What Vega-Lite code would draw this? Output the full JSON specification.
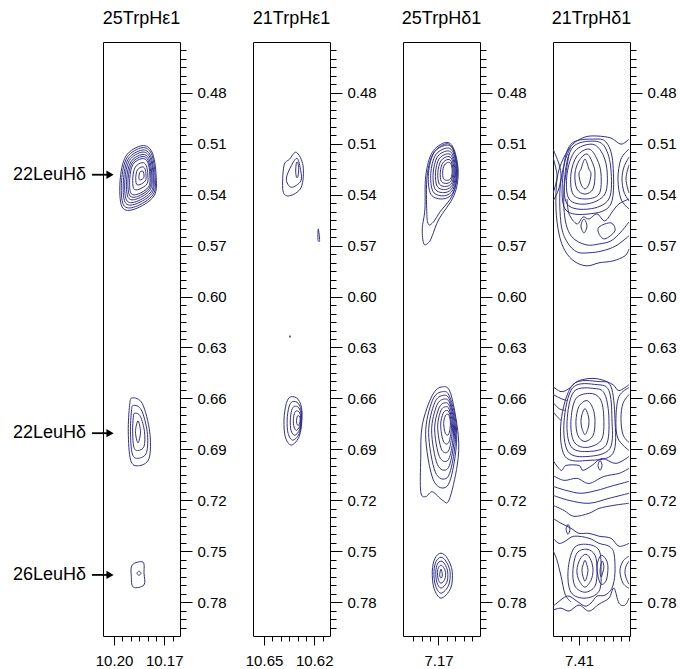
{
"$schema":"https://vega.github.io/schema/vega-lite/v6.json",
"autosize":{"type":"pad"},
"padding":{"left":12,"top":9,"right":5,"bottom":5},
"background":"white",
"spacing":73,
"bounds":"flush",
"config":{
 "view":{"stroke":"#000","strokeWidth":1},
 "font":"Liberation Sans",
 "axis":{"domain":false,"grid":false,"labelFontSize":15,"labelColor":"#000","tickColor":"#000","tickWidth":1,"labelOverlap":false,"labelFlush":false,"labelBound":false},
 "title":{"fontSize":18,"fontWeight":"normal","color":"#000","offset":14,"baseline":"alphabetic","frame":"group","anchor":"middle"}
},
"datasets":{
"p1":[
{"c":"A1","x":10.1833,"y":0.5111},{"c":"A1","x":10.1773,"y":0.5149},{"c":"A1","x":10.1749,"y":0.5284},{"c":"A1","x":10.1761,"y":0.5407},{"c":"A1","x":10.1875,"y":0.5484},{"c":"A1","x":10.1952,"y":0.5472},{"c":"A1","x":10.1964,"y":0.5319},{"c":"A1","x":10.1929,"y":0.5172},
{"c":"A1b","x":10.1833,"y":0.5123},{"c":"A1b","x":10.1777,"y":0.5158},{"c":"A1b","x":10.1755,"y":0.5284},{"c":"A1b","x":10.1766,"y":0.5398},{"c":"A1b","x":10.1872,"y":0.5470},{"c":"A1b","x":10.1944,"y":0.5459},{"c":"A1b","x":10.1955,"y":0.5317},{"c":"A1b","x":10.1922,"y":0.5180},
{"c":"A2","x":10.1833,"y":0.5137},{"c":"A2","x":10.1782,"y":0.5169},{"c":"A2","x":10.1762,"y":0.5284},{"c":"A2","x":10.1772,"y":0.5389},{"c":"A2","x":10.1869,"y":0.5454},{"c":"A2","x":10.1934,"y":0.5444},{"c":"A2","x":10.1944,"y":0.5314},{"c":"A2","x":10.1915,"y":0.5189},
{"c":"A2b","x":10.1833,"y":0.5149},{"c":"A2b","x":10.1786,"y":0.5179},{"c":"A2b","x":10.1767,"y":0.5284},{"c":"A2b","x":10.1777,"y":0.5380},{"c":"A2b","x":10.1866,"y":0.5440},{"c":"A2b","x":10.1926,"y":0.5431},{"c":"A2b","x":10.1935,"y":0.5311},{"c":"A2b","x":10.1908,"y":0.5197},
{"c":"A3","x":10.1833,"y":0.5163},{"c":"A3","x":10.1791,"y":0.5189},{"c":"A3","x":10.1774,"y":0.5284},{"c":"A3","x":10.1783,"y":0.5370},{"c":"A3","x":10.1862,"y":0.5424},{"c":"A3","x":10.1916,"y":0.5416},{"c":"A3","x":10.1925,"y":0.5309},{"c":"A3","x":10.1900,"y":0.5206},
{"c":"A3b","x":10.1833,"y":0.5175},{"c":"A3b","x":10.1795,"y":0.5199},{"c":"A3b","x":10.1780,"y":0.5284},{"c":"A3b","x":10.1788,"y":0.5361},{"c":"A3b","x":10.1859,"y":0.5410},{"c":"A3b","x":10.1908,"y":0.5402},{"c":"A3b","x":10.1916,"y":0.5306},{"c":"A3b","x":10.1893,"y":0.5213},
{"c":"A4","x":10.1833,"y":0.5187},{"c":"A4","x":10.1799,"y":0.5208},{"c":"A4","x":10.1786,"y":0.5284},{"c":"A4","x":10.1793,"y":0.5353},{"c":"A4","x":10.1857,"y":0.5396},{"c":"A4","x":10.1900,"y":0.5389},{"c":"A4","x":10.1906,"y":0.5304},{"c":"A4","x":10.1887,"y":0.5221},
{"c":"A5","x":10.1833,"y":0.5211},{"c":"A5","x":10.1808,"y":0.5227},{"c":"A5","x":10.1798,"y":0.5284},{"c":"A5","x":10.1803,"y":0.5336},{"c":"A5","x":10.1851,"y":0.5368},{"c":"A5","x":10.1883,"y":0.5363},{"c":"A5","x":10.1888,"y":0.5299},{"c":"A5","x":10.1873,"y":0.5237},
{"c":"A6","x":10.1833,"y":0.5236},{"c":"A6","x":10.1816,"y":0.5246},{"c":"A6","x":10.1809,"y":0.5284},{"c":"A6","x":10.1813,"y":0.5318},{"c":"A6","x":10.1845,"y":0.5340},{"c":"A6","x":10.1866,"y":0.5337},{"c":"A6","x":10.1870,"y":0.5294},{"c":"A6","x":10.1860,"y":0.5253},
{"c":"A7","x":10.1833,"y":0.5260},{"c":"A7","x":10.1825,"y":0.5265},{"c":"A7","x":10.1821,"y":0.5284},{"c":"A7","x":10.1823,"y":0.5301},{"c":"A7","x":10.1839,"y":0.5312},{"c":"A7","x":10.1850,"y":0.5310},{"c":"A7","x":10.1851,"y":0.5289},{"c":"A7","x":10.1846,"y":0.5268},
{"c":"B1","x":10.1891,"y":0.6597},{"c":"B1","x":10.1831,"y":0.6631},{"c":"B1","x":10.1787,"y":0.6797},{"c":"B1","x":10.1791,"y":0.6954},{"c":"B1","x":10.1855,"y":0.6997},{"c":"B1","x":10.1901,"y":0.6964},{"c":"B1","x":10.1915,"y":0.6797},{"c":"B1","x":10.1907,"y":0.6641},
{"c":"B2","x":10.1884,"y":0.6641},{"c":"B2","x":10.1837,"y":0.6668},{"c":"B2","x":10.1802,"y":0.6797},{"c":"B2","x":10.1806,"y":0.6919},{"c":"B2","x":10.1855,"y":0.6953},{"c":"B2","x":10.1891,"y":0.6927},{"c":"B2","x":10.1902,"y":0.6797},{"c":"B2","x":10.1896,"y":0.6675},
{"c":"B3","x":10.1876,"y":0.6687},{"c":"B3","x":10.1843,"y":0.6706},{"c":"B3","x":10.1818,"y":0.6797},{"c":"B3","x":10.1821,"y":0.6883},{"c":"B3","x":10.1856,"y":0.6907},{"c":"B3","x":10.1881,"y":0.6889},{"c":"B3","x":10.1889,"y":0.6797},{"c":"B3","x":10.1885,"y":0.6711},
{"c":"B4","x":10.1857,"y":0.6732},{"c":"B4","x":10.1842,"y":0.6797},{"c":"B4","x":10.1857,"y":0.6862},{"c":"B4","x":10.1872,"y":0.6797},
{"c":"C1","x":10.1891,"y":0.7581},{"c":"C1","x":10.1827,"y":0.7565},{"c":"C1","x":10.1821,"y":0.7630},{"c":"C1","x":10.1821,"y":0.7699},{"c":"C1","x":10.1885,"y":0.7712},{"c":"C1","x":10.1897,"y":0.7648},
{"c":"C2","x":10.1851,"y":0.7618},{"c":"C2","x":10.1839,"y":0.7630},{"c":"C2","x":10.1851,"y":0.7642},{"c":"C2","x":10.1863,"y":0.7630}
],
"p2":[
{"c":"D1","x":10.6307,"y":0.5150},{"c":"D1","x":10.6267,"y":0.5229},{"c":"D1","x":10.6278,"y":0.5356},{"c":"D1","x":10.6347,"y":0.5406},{"c":"D1","x":10.6387,"y":0.5376},{"c":"D1","x":10.6381,"y":0.5229},{"c":"D1","x":10.6347,"y":0.5190},
{"c":"D2","x":10.6302,"y":0.5186},{"c":"D2","x":10.6281,"y":0.5259},{"c":"D2","x":10.6281,"y":0.5320},{"c":"D2","x":10.6337,"y":0.5356},{"c":"D2","x":10.6367,"y":0.5307},{"c":"D2","x":10.6337,"y":0.5229},
{"c":"D3","x":10.6300,"y":0.5209},{"c":"D3","x":10.6293,"y":0.5240},{"c":"D3","x":10.6297,"y":0.5290},{"c":"D3","x":10.6306,"y":0.5297},{"c":"D3","x":10.6311,"y":0.5260},{"c":"D3","x":10.6307,"y":0.5215},
{"c":"D4","x":10.6176,"y":0.5601},{"c":"D4","x":10.6168,"y":0.5670},{"c":"D4","x":10.6178,"y":0.5665},
{"c":"D5","x":10.6345,"y":0.6230},{"c":"D5","x":10.6343,"y":0.6240},{"c":"D5","x":10.6347,"y":0.6240},
{"c":"E1","x":10.6341,"y":0.6591},{"c":"E1","x":10.6297,"y":0.6605},{"c":"E1","x":10.6273,"y":0.6679},{"c":"E1","x":10.6287,"y":0.6816},{"c":"E1","x":10.6337,"y":0.6875},{"c":"E1","x":10.6373,"y":0.6826},{"c":"E1","x":10.6381,"y":0.6728},{"c":"E1","x":10.6367,"y":0.6630},
{"c":"E2","x":10.6330,"y":0.6619},{"c":"E2","x":10.6295,"y":0.6630},{"c":"E2","x":10.6276,"y":0.6689},{"c":"E2","x":10.6287,"y":0.6799},{"c":"E2","x":10.6327,"y":0.6846},{"c":"E2","x":10.6356,"y":0.6807},{"c":"E2","x":10.6362,"y":0.6728},{"c":"E2","x":10.6351,"y":0.6650},
{"c":"E3","x":10.6319,"y":0.6647},{"c":"E3","x":10.6293,"y":0.6655},{"c":"E3","x":10.6279,"y":0.6699},{"c":"E3","x":10.6287,"y":0.6782},{"c":"E3","x":10.6317,"y":0.6817},{"c":"E3","x":10.6339,"y":0.6788},{"c":"E3","x":10.6343,"y":0.6729},{"c":"E3","x":10.6335,"y":0.6670},
{"c":"E4","x":10.6309,"y":0.6674},{"c":"E4","x":10.6291,"y":0.6680},{"c":"E4","x":10.6281,"y":0.6710},{"c":"E4","x":10.6287,"y":0.6764},{"c":"E4","x":10.6307,"y":0.6788},{"c":"E4","x":10.6321,"y":0.6768},{"c":"E4","x":10.6325,"y":0.6729},{"c":"E4","x":10.6319,"y":0.6690},
{"c":"E5","x":10.6298,"y":0.6702},{"c":"E5","x":10.6289,"y":0.6705},{"c":"E5","x":10.6284,"y":0.6720},{"c":"E5","x":10.6287,"y":0.6747},{"c":"E5","x":10.6297,"y":0.6759},{"c":"E5","x":10.6304,"y":0.6749},{"c":"E5","x":10.6306,"y":0.6730},{"c":"E5","x":10.6303,"y":0.6710}
],
"p3":[
{"c":"F0","x":7.1657,"y":0.5092},{"c":"F0","x":7.1608,"y":0.5131},{"c":"F0","x":7.1582,"y":0.5268},{"c":"F0","x":7.1608,"y":0.5406},{"c":"F0","x":7.1697,"y":0.5543},{"c":"F0","x":7.1737,"y":0.5641},{"c":"F0","x":7.1757,"y":0.5680},{"c":"F0","x":7.1787,"y":0.5690},{"c":"F0","x":7.1797,"y":0.5601},{"c":"F0","x":7.1781,"y":0.5484},{"c":"F0","x":7.1776,"y":0.5288},{"c":"F0","x":7.1737,"y":0.5150},
{"c":"F1","x":7.1655,"y":0.5100},{"c":"F1","x":7.1612,"y":0.5135},{"c":"F1","x":7.1588,"y":0.5268},{"c":"F1","x":7.1615,"y":0.5400},{"c":"F1","x":7.1690,"y":0.5500},{"c":"F1","x":7.1730,"y":0.5560},{"c":"F1","x":7.1760,"y":0.5575},{"c":"F1","x":7.1770,"y":0.5500},{"c":"F1","x":7.1768,"y":0.5290},{"c":"F1","x":7.1730,"y":0.5155},
{"c":"F2","x":7.1655,"y":0.5108},{"c":"F2","x":7.1610,"y":0.5138},{"c":"F2","x":7.1587,"y":0.5260},{"c":"F2","x":7.1610,"y":0.5382},{"c":"F2","x":7.1669,"y":0.5424},{"c":"F2","x":7.1745,"y":0.5398},{"c":"F2","x":7.1760,"y":0.5276},{"c":"F2","x":7.1728,"y":0.5154},
{"c":"F3","x":7.1652,"y":0.5125},{"c":"F3","x":7.1612,"y":0.5152},{"c":"F3","x":7.1592,"y":0.5260},{"c":"F3","x":7.1612,"y":0.5368},{"c":"F3","x":7.1665,"y":0.5406},{"c":"F3","x":7.1732,"y":0.5382},{"c":"F3","x":7.1746,"y":0.5274},{"c":"F3","x":7.1718,"y":0.5166},
{"c":"F4","x":7.1650,"y":0.5142},{"c":"F4","x":7.1615,"y":0.5165},{"c":"F4","x":7.1597,"y":0.5260},{"c":"F4","x":7.1615,"y":0.5355},{"c":"F4","x":7.1661,"y":0.5387},{"c":"F4","x":7.1720,"y":0.5367},{"c":"F4","x":7.1732,"y":0.5273},{"c":"F4","x":7.1707,"y":0.5177},
{"c":"F5","x":7.1647,"y":0.5159},{"c":"F5","x":7.1617,"y":0.5179},{"c":"F5","x":7.1602,"y":0.5260},{"c":"F5","x":7.1617,"y":0.5341},{"c":"F5","x":7.1657,"y":0.5369},{"c":"F5","x":7.1707,"y":0.5352},{"c":"F5","x":7.1718,"y":0.5271},{"c":"F5","x":7.1697,"y":0.5189},
{"c":"F6","x":7.1645,"y":0.5175},{"c":"F6","x":7.1620,"y":0.5192},{"c":"F6","x":7.1607,"y":0.5260},{"c":"F6","x":7.1620,"y":0.5328},{"c":"F6","x":7.1653,"y":0.5351},{"c":"F6","x":7.1695,"y":0.5337},{"c":"F6","x":7.1704,"y":0.5269},{"c":"F6","x":7.1686,"y":0.5201},
{"c":"F7","x":7.1643,"y":0.5192},{"c":"F7","x":7.1623,"y":0.5206},{"c":"F7","x":7.1613,"y":0.5260},{"c":"F7","x":7.1623,"y":0.5314},{"c":"F7","x":7.1649,"y":0.5333},{"c":"F7","x":7.1683,"y":0.5321},{"c":"F7","x":7.1689,"y":0.5267},{"c":"F7","x":7.1675,"y":0.5213},
{"c":"F8","x":7.1640,"y":0.5209},{"c":"F8","x":7.1625,"y":0.5219},{"c":"F8","x":7.1618,"y":0.5260},{"c":"F8","x":7.1625,"y":0.5301},{"c":"F8","x":7.1645,"y":0.5315},{"c":"F8","x":7.1670,"y":0.5306},{"c":"F8","x":7.1675,"y":0.5265},{"c":"F8","x":7.1665,"y":0.5225},
{"c":"G0","x":7.1677,"y":0.6532},{"c":"G0","x":7.1627,"y":0.6572},{"c":"G0","x":7.1582,"y":0.6817},{"c":"G0","x":7.1588,"y":0.6993},{"c":"G0","x":7.1637,"y":0.7199},{"c":"G0","x":7.1677,"y":0.7199},{"c":"G0","x":7.1737,"y":0.7150},{"c":"G0","x":7.1776,"y":0.7179},{"c":"G0","x":7.1806,"y":0.7150},{"c":"G0","x":7.1806,"y":0.6954},{"c":"G0","x":7.1797,"y":0.6758},{"c":"G0","x":7.1737,"y":0.6582},
{"c":"G1","x":7.1676,"y":0.6560},{"c":"G1","x":7.1632,"y":0.6592},{"c":"G1","x":7.1593,"y":0.6767},{"c":"G1","x":7.1602,"y":0.6951},{"c":"G1","x":7.1648,"y":0.7117},{"c":"G1","x":7.1731,"y":0.7080},{"c":"G1","x":7.1777,"y":0.6813},{"c":"G1","x":7.1736,"y":0.6611},
{"c":"G2","x":7.1671,"y":0.6582},{"c":"G2","x":7.1633,"y":0.6610},{"c":"G2","x":7.1599,"y":0.6762},{"c":"G2","x":7.1607,"y":0.6922},{"c":"G2","x":7.1647,"y":0.7066},{"c":"G2","x":7.1719,"y":0.7034},{"c":"G2","x":7.1759,"y":0.6802},{"c":"G2","x":7.1723,"y":0.6626},
{"c":"G3","x":7.1666,"y":0.6604},{"c":"G3","x":7.1633,"y":0.6628},{"c":"G3","x":7.1605,"y":0.6757},{"c":"G3","x":7.1612,"y":0.6893},{"c":"G3","x":7.1646,"y":0.7015},{"c":"G3","x":7.1707,"y":0.6988},{"c":"G3","x":7.1741,"y":0.6791},{"c":"G3","x":7.1710,"y":0.6641},
{"c":"G4","x":7.1661,"y":0.6626},{"c":"G4","x":7.1634,"y":0.6646},{"c":"G4","x":7.1611,"y":0.6752},{"c":"G4","x":7.1616,"y":0.6864},{"c":"G4","x":7.1644,"y":0.6965},{"c":"G4","x":7.1695,"y":0.6942},{"c":"G4","x":7.1723,"y":0.6780},{"c":"G4","x":7.1697,"y":0.6657},
{"c":"G5","x":7.1657,"y":0.6649},{"c":"G5","x":7.1636,"y":0.6664},{"c":"G5","x":7.1617,"y":0.6748},{"c":"G5","x":7.1622,"y":0.6836},{"c":"G5","x":7.1644,"y":0.6915},{"c":"G5","x":7.1683,"y":0.6898},{"c":"G5","x":7.1705,"y":0.6770},{"c":"G5","x":7.1686,"y":0.6673},
{"c":"G6","x":7.1652,"y":0.6671},{"c":"G6","x":7.1637,"y":0.6682},{"c":"G6","x":7.1623,"y":0.6743},{"c":"G6","x":7.1626,"y":0.6807},{"c":"G6","x":7.1642,"y":0.6865},{"c":"G6","x":7.1671,"y":0.6852},{"c":"G6","x":7.1687,"y":0.6759},{"c":"G6","x":7.1673,"y":0.6689},
{"c":"G7","x":7.1647,"y":0.6693},{"c":"G7","x":7.1637,"y":0.6700},{"c":"G7","x":7.1629,"y":0.6738},{"c":"G7","x":7.1631,"y":0.6778},{"c":"G7","x":7.1641,"y":0.6814},{"c":"G7","x":7.1659,"y":0.6806},{"c":"G7","x":7.1669,"y":0.6748},{"c":"G7","x":7.1660,"y":0.6704},
{"c":"H1","x":7.1685,"y":0.7512},{"c":"H1","x":7.1647,"y":0.7542},{"c":"H1","x":7.1618,"y":0.7618},{"c":"H1","x":7.1627,"y":0.7718},{"c":"H1","x":7.1685,"y":0.7777},{"c":"H1","x":7.1727,"y":0.7718},{"c":"H1","x":7.1737,"y":0.7618},{"c":"H1","x":7.1721,"y":0.7542},
{"c":"H2","x":7.1685,"y":0.7536},{"c":"H2","x":7.1655,"y":0.7560},{"c":"H2","x":7.1631,"y":0.7620},{"c":"H2","x":7.1639,"y":0.7700},{"c":"H2","x":7.1685,"y":0.7748},{"c":"H2","x":7.1719,"y":0.7700},{"c":"H2","x":7.1727,"y":0.7620},{"c":"H2","x":7.1714,"y":0.7560},
{"c":"H3","x":7.1685,"y":0.7559},{"c":"H3","x":7.1662,"y":0.7577},{"c":"H3","x":7.1645,"y":0.7623},{"c":"H3","x":7.1650,"y":0.7683},{"c":"H3","x":7.1685,"y":0.7718},{"c":"H3","x":7.1710,"y":0.7683},{"c":"H3","x":7.1716,"y":0.7623},{"c":"H3","x":7.1707,"y":0.7577},
{"c":"H4","x":7.1685,"y":0.7583},{"c":"H4","x":7.1670,"y":0.7595},{"c":"H4","x":7.1658,"y":0.7625},{"c":"H4","x":7.1662,"y":0.7665},{"c":"H4","x":7.1685,"y":0.7689},{"c":"H4","x":7.1702,"y":0.7665},{"c":"H4","x":7.1706,"y":0.7625},{"c":"H4","x":7.1699,"y":0.7595},
{"c":"H5","x":7.1685,"y":0.7606},{"c":"H5","x":7.1677,"y":0.7640},{"c":"H5","x":7.1685,"y":0.7660},{"c":"H5","x":7.1693,"y":0.7640}
],
"p4":[
{"c":"M1","x":7.4065,"y":0.5190},{"c":"M1","x":7.4041,"y":0.5249},{"c":"M1","x":7.4029,"y":0.5278},{"c":"M1","x":7.4041,"y":0.5337},{"c":"M1","x":7.4065,"y":0.5366},{"c":"M1","x":7.4089,"y":0.5337},{"c":"M1","x":7.4101,"y":0.5278},{"c":"M1","x":7.4089,"y":0.5249},
{"c":"M2","x":7.4053,"y":0.5160},{"c":"M2","x":7.4017,"y":0.5219},{"c":"M2","x":7.4005,"y":0.5278},{"c":"M2","x":7.4017,"y":0.5366},{"c":"M2","x":7.4065,"y":0.5396},{"c":"M2","x":7.4113,"y":0.5366},{"c":"M2","x":7.4125,"y":0.5278},{"c":"M2","x":7.4101,"y":0.5201},
{"c":"M3","x":7.4041,"y":0.5131},{"c":"M3","x":7.3993,"y":0.5190},{"c":"M3","x":7.3969,"y":0.5278},{"c":"M3","x":7.3981,"y":0.5396},{"c":"M3","x":7.4065,"y":0.5425},{"c":"M3","x":7.4137,"y":0.5396},{"c":"M3","x":7.4149,"y":0.5278},{"c":"M3","x":7.4113,"y":0.5172},
{"c":"M4","x":7.4029,"y":0.5102},{"c":"M4","x":7.3969,"y":0.5143},{"c":"M4","x":7.3934,"y":0.5249},{"c":"M4","x":7.3946,"y":0.5396},{"c":"M4","x":7.4053,"y":0.5454},{"c":"M4","x":7.4160,"y":0.5425},{"c":"M4","x":7.4172,"y":0.5278},{"c":"M4","x":7.4125,"y":0.5143},
{"c":"M5","x":7.4017,"y":0.5084},{"c":"M5","x":7.3946,"y":0.5119},{"c":"M5","x":7.3910,"y":0.5249},{"c":"M5","x":7.3922,"y":0.5425},{"c":"M5","x":7.4041,"y":0.5484},{"c":"M5","x":7.4172,"y":0.5454},{"c":"M5","x":7.4184,"y":0.5278},{"c":"M5","x":7.4137,"y":0.5119},
{"c":"M6","x":7.4005,"y":0.5072},{"c":"M6","x":7.3934,"y":0.5096},{"c":"M6","x":7.3898,"y":0.5219},{"c":"M6","x":7.3910,"y":0.5454},{"c":"M6","x":7.4041,"y":0.5513},{"c":"M6","x":7.4184,"y":0.5484},{"c":"M6","x":7.4196,"y":0.5278},{"c":"M6","x":7.4149,"y":0.5102},
{"c":"K1","x":7.4071,"y":0.5543},{"c":"K1","x":7.4053,"y":0.5584},{"c":"K1","x":7.4071,"y":0.5625},{"c":"K1","x":7.4089,"y":0.5584},
{"c":"K2","x":7.3981,"y":0.5590},{"c":"K2","x":7.3910,"y":0.5566},{"c":"K2","x":7.3886,"y":0.5613},{"c":"K2","x":7.3946,"y":0.5660},{"c":"K2","x":7.3981,"y":0.5631},
{"c":"P1","x":7.4065,"y":0.6660},{"c":"P1","x":7.4047,"y":0.6695},{"c":"P1","x":7.4041,"y":0.6736},{"c":"P1","x":7.4047,"y":0.6777},{"c":"P1","x":7.4065,"y":0.6813},{"c":"P1","x":7.4083,"y":0.6777},{"c":"P1","x":7.4089,"y":0.6736},{"c":"P1","x":7.4083,"y":0.6695},
{"c":"P2","x":7.4053,"y":0.6613},{"c":"P2","x":7.4017,"y":0.6660},{"c":"P2","x":7.4005,"y":0.6736},{"c":"P2","x":7.4017,"y":0.6819},{"c":"P2","x":7.4065,"y":0.6854},{"c":"P2","x":7.4107,"y":0.6819},{"c":"P2","x":7.4119,"y":0.6736},{"c":"P2","x":7.4101,"y":0.6648},
{"c":"P3","x":7.4029,"y":0.6571},{"c":"P3","x":7.3969,"y":0.6613},{"c":"P3","x":7.3952,"y":0.6736},{"c":"P3","x":7.3969,"y":0.6848},{"c":"P3","x":7.4059,"y":0.6889},{"c":"P3","x":7.4131,"y":0.6854},{"c":"P3","x":7.4149,"y":0.6736},{"c":"P3","x":7.4119,"y":0.6601},
{"c":"P4","x":7.4005,"y":0.6542},{"c":"P4","x":7.3946,"y":0.6577},{"c":"P4","x":7.3922,"y":0.6718},{"c":"P4","x":7.3940,"y":0.6877},{"c":"P4","x":7.4053,"y":0.6913},{"c":"P4","x":7.4149,"y":0.6883},{"c":"P4","x":7.4172,"y":0.6736},{"c":"P4","x":7.4131,"y":0.6560},
{"c":"P5","x":7.3993,"y":0.6519},{"c":"P5","x":7.3922,"y":0.6554},{"c":"P5","x":7.3904,"y":0.6718},{"c":"P5","x":7.3916,"y":0.6895},{"c":"P5","x":7.4047,"y":0.6942},{"c":"P5","x":7.4166,"y":0.6913},{"c":"P5","x":7.4190,"y":0.6736},{"c":"P5","x":7.4137,"y":0.6536},
{"c":"P6","x":7.3981,"y":0.6501},{"c":"P6","x":7.3910,"y":0.6530},{"c":"P6","x":7.3886,"y":0.6718},{"c":"P6","x":7.3898,"y":0.6924},{"c":"P6","x":7.4041,"y":0.6965},{"c":"P6","x":7.4184,"y":0.6942},{"c":"P6","x":7.4208,"y":0.6736},{"c":"P6","x":7.4137,"y":0.6519},
{"c":"K3","x":7.3975,"y":0.6965},{"c":"K3","x":7.3963,"y":0.6995},{"c":"K3","x":7.3975,"y":0.7024},{"c":"K3","x":7.3987,"y":0.6995},
{"c":"K4","x":7.4166,"y":0.7342},{"c":"K4","x":7.4155,"y":0.7371},{"c":"K4","x":7.4166,"y":0.7401},{"c":"K4","x":7.4178,"y":0.7371},
{"c":"Q1","x":7.4065,"y":0.7554},{"c":"Q1","x":7.4053,"y":0.7583},{"c":"Q1","x":7.4047,"y":0.7613},{"c":"Q1","x":7.4053,"y":0.7648},{"c":"Q1","x":7.4065,"y":0.7677},{"c":"Q1","x":7.4077,"y":0.7648},{"c":"Q1","x":7.4083,"y":0.7613},{"c":"Q1","x":7.4077,"y":0.7583},
{"c":"Q2","x":7.4059,"y":0.7518},{"c":"Q2","x":7.4029,"y":0.7554},{"c":"Q2","x":7.4017,"y":0.7613},{"c":"Q2","x":7.4029,"y":0.7671},{"c":"Q2","x":7.4065,"y":0.7712},{"c":"Q2","x":7.4101,"y":0.7671},{"c":"Q2","x":7.4113,"y":0.7613},{"c":"Q2","x":7.4095,"y":0.7548},
{"c":"Q3","x":7.4053,"y":0.7489},{"c":"Q3","x":7.4005,"y":0.7524},{"c":"Q3","x":7.3993,"y":0.7613},{"c":"Q3","x":7.4005,"y":0.7706},{"c":"Q3","x":7.4065,"y":0.7742},{"c":"Q3","x":7.4125,"y":0.7706},{"c":"Q3","x":7.4137,"y":0.7613},{"c":"Q3","x":7.4113,"y":0.7512},
{"c":"Q4","x":7.4053,"y":0.7460},{"c":"Q4","x":7.3981,"y":0.7495},{"c":"Q4","x":7.3969,"y":0.7613},{"c":"Q4","x":7.3981,"y":0.7736},{"c":"Q4","x":7.4065,"y":0.7777},{"c":"Q4","x":7.4149,"y":0.7742},{"c":"Q4","x":7.4166,"y":0.7613},{"c":"Q4","x":7.4131,"y":0.7483},
{"c":"T1","x":7.3963,"y":0.7559},{"c":"T1","x":7.3952,"y":0.7589},{"c":"T1","x":7.3958,"y":0.7624},{"c":"T1","x":7.3969,"y":0.7653},{"c":"T1","x":7.3975,"y":0.7613},
{"c":"T2","x":7.3963,"y":0.7524},{"c":"T2","x":7.3934,"y":0.7559},{"c":"T2","x":7.3928,"y":0.7613},{"c":"T2","x":7.3940,"y":0.7677},{"c":"T2","x":7.3969,"y":0.7695},{"c":"T2","x":7.3987,"y":0.7648},{"c":"T2","x":7.3993,"y":0.7589},{"c":"T2","x":7.3981,"y":0.7542}
],
"p4o":[
{"c":"U1","x":7.3802,"y":0.5072},{"c":"U1","x":7.3850,"y":0.5102},{"c":"U1","x":7.3910,"y":0.5066},{"c":"U1","x":7.3993,"y":0.5054},{"c":"U1","x":7.4065,"y":0.5060},{"c":"U1","x":7.4137,"y":0.5102},{"c":"U1","x":7.4196,"y":0.5190},{"c":"U1","x":7.4232,"y":0.5307},{"c":"U1","x":7.4238,"y":0.5484},{"c":"U1","x":7.4220,"y":0.5631},{"c":"U1","x":7.4184,"y":0.5731},{"c":"U1","x":7.4125,"y":0.5795},{"c":"U1","x":7.4053,"y":0.5819},{"c":"U1","x":7.3981,"y":0.5801},{"c":"U1","x":7.3898,"y":0.5790},{"c":"U1","x":7.3826,"y":0.5760},{"c":"U1","x":7.3802,"y":0.5719},
{"c":"U2","x":7.4149,"y":0.5119},{"c":"U2","x":7.4184,"y":0.5201},{"c":"U2","x":7.4214,"y":0.5366},{"c":"U2","x":7.4208,"y":0.5572},{"c":"U2","x":7.4172,"y":0.5678},{"c":"U2","x":7.4113,"y":0.5737},{"c":"U2","x":7.4041,"y":0.5742},{"c":"U2","x":7.3963,"y":0.5731},{"c":"U2","x":7.3880,"y":0.5701},{"c":"U2","x":7.3802,"y":0.5642},
{"c":"U3","x":7.4160,"y":0.5160},{"c":"U3","x":7.4190,"y":0.5366},{"c":"U3","x":7.4184,"y":0.5543},{"c":"U3","x":7.4143,"y":0.5648},{"c":"U3","x":7.4059,"y":0.5695},{"c":"U3","x":7.3981,"y":0.5690},{"c":"U3","x":7.3910,"y":0.5672},{"c":"U3","x":7.3850,"y":0.5619},{"c":"U3","x":7.3802,"y":0.5560},
{"c":"W1","x":7.4172,"y":0.5425},{"c":"W1","x":7.4160,"y":0.5513},{"c":"W1","x":7.4113,"y":0.5572},{"c":"W1","x":7.4077,"y":0.5531},{"c":"W1","x":7.4041,"y":0.5543},{"c":"W1","x":7.3993,"y":0.5513},{"c":"W1","x":7.3946,"y":0.5554},{"c":"W1","x":7.3898,"y":0.5495},{"c":"W1","x":7.3862,"y":0.5454},{"c":"W1","x":7.3802,"y":0.5425},
{"c":"R1","x":7.3802,"y":0.5131},{"c":"R1","x":7.3850,"y":0.5190},{"c":"R1","x":7.3868,"y":0.5307},{"c":"R1","x":7.3850,"y":0.5425},{"c":"R1","x":7.3802,"y":0.5484},
{"c":"R2","x":7.3802,"y":0.5178},{"c":"R2","x":7.3832,"y":0.5237},{"c":"R2","x":7.3844,"y":0.5307},{"c":"R2","x":7.3832,"y":0.5384},{"c":"R2","x":7.3802,"y":0.5437},
{"c":"R3","x":7.3802,"y":0.5225},{"c":"R3","x":7.3820,"y":0.5307},{"c":"R3","x":7.3802,"y":0.5390},
{"c":"L1","x":7.4256,"y":0.5131},{"c":"L1","x":7.4220,"y":0.5219},{"c":"L1","x":7.4208,"y":0.5296},{"c":"L1","x":7.4226,"y":0.5378},{"c":"L1","x":7.4256,"y":0.5437},
{"c":"L2","x":7.4256,"y":0.5178},{"c":"L2","x":7.4238,"y":0.5249},{"c":"L2","x":7.4232,"y":0.5296},{"c":"L2","x":7.4244,"y":0.5354},{"c":"L2","x":7.4256,"y":0.5390},
{"c":"N1","x":7.4256,"y":0.6530},{"c":"N1","x":7.4208,"y":0.6560},{"c":"N1","x":7.4160,"y":0.6542},{"c":"N1","x":7.4113,"y":0.6501},{"c":"N1","x":7.4041,"y":0.6483},{"c":"N1","x":7.3969,"y":0.6489},{"c":"N1","x":7.3898,"y":0.6519},{"c":"N1","x":7.3862,"y":0.6554},{"c":"N1","x":7.3802,"y":0.6519},
{"c":"N2","x":7.4256,"y":0.6577},{"c":"N2","x":7.4208,"y":0.6601},{"c":"N2","x":7.4172,"y":0.6613},
{"c":"N3","x":7.4256,"y":0.6624},{"c":"N3","x":7.4220,"y":0.6660},{"c":"N3","x":7.4184,"y":0.6671},
{"c":"N4","x":7.4256,"y":0.6677},{"c":"N4","x":7.4232,"y":0.6707},{"c":"N4","x":7.4208,"y":0.6730},
{"c":"V1","x":7.3802,"y":0.6536},{"c":"V1","x":7.3862,"y":0.6589},{"c":"V1","x":7.3880,"y":0.6718},{"c":"V1","x":7.3868,"y":0.6836},{"c":"V1","x":7.3802,"y":0.6907},
{"c":"V2","x":7.3802,"y":0.6577},{"c":"V2","x":7.3838,"y":0.6630},{"c":"V2","x":7.3850,"y":0.6718},{"c":"V2","x":7.3838,"y":0.6813},{"c":"V2","x":7.3802,"y":0.6860},
{"c":"BA","x":7.4256,"y":0.6965},{"c":"BA","x":7.4208,"y":0.7024},{"c":"BA","x":7.4178,"y":0.6995},{"c":"BA","x":7.4101,"y":0.6995},{"c":"BA","x":7.4077,"y":0.7024},{"c":"BA","x":7.4023,"y":0.6995},{"c":"BA","x":7.3963,"y":0.6954},{"c":"BA","x":7.3880,"y":0.6983},{"c":"BA","x":7.3802,"y":0.6942},
{"c":"BB","x":7.4256,"y":0.7054},{"c":"BB","x":7.4190,"y":0.7083},{"c":"BB","x":7.4113,"y":0.7071},{"c":"BB","x":7.4041,"y":0.7101},{"c":"BB","x":7.3952,"y":0.7060},{"c":"BB","x":7.3862,"y":0.7042},{"c":"BB","x":7.3802,"y":0.7012},
{"c":"BC","x":7.4256,"y":0.7118},{"c":"BC","x":7.4178,"y":0.7142},{"c":"BC","x":7.4089,"y":0.7159},{"c":"BC","x":7.3993,"y":0.7142},{"c":"BC","x":7.3910,"y":0.7118},{"c":"BC","x":7.3802,"y":0.7089},
{"c":"BD","x":7.4256,"y":0.7171},{"c":"BD","x":7.4160,"y":0.7201},{"c":"BD","x":7.4041,"y":0.7218},{"c":"BD","x":7.3922,"y":0.7189},{"c":"BD","x":7.3802,"y":0.7159},
{"c":"BE","x":7.4256,"y":0.7230},{"c":"BE","x":7.4190,"y":0.7260},{"c":"BE","x":7.4131,"y":0.7295},{"c":"BE","x":7.4041,"y":0.7277},{"c":"BE","x":7.3981,"y":0.7248},{"c":"BE","x":7.3892,"y":0.7230},{"c":"BE","x":7.3802,"y":0.7218},
{"c":"S1","x":7.3802,"y":0.7530},{"c":"S1","x":7.3838,"y":0.7559},{"c":"S1","x":7.3856,"y":0.7618},{"c":"S1","x":7.3838,"y":0.7689},{"c":"S1","x":7.3802,"y":0.7718},
{"c":"S2","x":7.3802,"y":0.7559},{"c":"S2","x":7.3820,"y":0.7589},{"c":"S2","x":7.3826,"y":0.7630},{"c":"S2","x":7.3814,"y":0.7671},{"c":"S2","x":7.3802,"y":0.7695},
{"c":"E1","x":7.4256,"y":0.7424},{"c":"E1","x":7.4220,"y":0.7454},{"c":"E1","x":7.4184,"y":0.7442},{"c":"E1","x":7.4131,"y":0.7412},{"c":"E1","x":7.4041,"y":0.7424},{"c":"E1","x":7.3981,"y":0.7454},{"c":"E1","x":7.3922,"y":0.7471},{"c":"E1","x":7.3892,"y":0.7512},{"c":"E1","x":7.3886,"y":0.7630},{"c":"E1","x":7.3904,"y":0.7718},{"c":"E1","x":7.3946,"y":0.7760},{"c":"E1","x":7.3993,"y":0.7765},{"c":"E1","x":7.4029,"y":0.7806},{"c":"E1","x":7.4065,"y":0.7824},{"c":"E1","x":7.4113,"y":0.7795},{"c":"E1","x":7.4160,"y":0.7765},{"c":"E1","x":7.4196,"y":0.7777},{"c":"E1","x":7.4232,"y":0.7806},{"c":"E1","x":7.4256,"y":0.7824},
{"c":"E2","x":7.4256,"y":0.7847},{"c":"E2","x":7.4208,"y":0.7836},{"c":"E2","x":7.4160,"y":0.7853},{"c":"E2","x":7.4101,"y":0.7818},{"c":"E2","x":7.4041,"y":0.7853},{"c":"E2","x":7.3981,"y":0.7812},{"c":"E2","x":7.3922,"y":0.7777},{"c":"E2","x":7.3892,"y":0.7718},{"c":"E2","x":7.3862,"y":0.7806},{"c":"E2","x":7.3826,"y":0.7818},{"c":"E2","x":7.3802,"y":0.7777},
{"c":"E3","x":7.4256,"y":0.7307},{"c":"E3","x":7.4208,"y":0.7336},{"c":"E3","x":7.4149,"y":0.7365},{"c":"E3","x":7.4101,"y":0.7395},{"c":"E3","x":7.4041,"y":0.7395},{"c":"E3","x":7.3981,"y":0.7412},{"c":"E3","x":7.3910,"y":0.7424},{"c":"E3","x":7.3862,"y":0.7471},{"c":"E3","x":7.3802,"y":0.7454},
{"c":"E4","x":7.4256,"y":0.7495},{"c":"E4","x":7.4232,"y":0.7554},{"c":"E4","x":7.4208,"y":0.7648},{"c":"E4","x":7.4184,"y":0.7753},{"c":"E4","x":7.4149,"y":0.7800}
],
"ann":[{"lab":"22LeuHδ","y":0.5282},{"lab":"22LeuHδ","y":0.6805},{"lab":"26LeuHδ","y":0.7640}]
},
"hconcat":[
{
 "width":77,"height":594,
 "title":{"text":"25TrpHε1"},
 "resolve":{"axis":{"x":"independent","y":"independent"}},
 "layer":[
  {
   "data":{"name":"p1"},
   "mark":{"type":"line","interpolate":"cardinal-closed","clip":true,"stroke":"#30308f","strokeWidth":1},
   "encoding":{
    "x":{"field":"x","type":"quantitative","scale":{"domain":[10.1606,10.2066],"reverse":true,"zero":false,"nice":false},
     "axis":{"orient":"bottom","title":null,"values":[10.165,10.17,10.175,10.18,10.185,10.19,10.195,10.2],
      "tickSize":{"condition":{"test":"round(datum.value*1000)%30===0","value":9},"value":5},
      "labelExpr":"round(datum.value*1000)%30===0 ? format(datum.value,'.2f') : ''","labelPadding":8}},
    "y":{"field":"y","type":"quantitative","scale":{"domain":[0.45,0.8],"reverse":true,"zero":false,"nice":false},
     "axis":{"orient":"right","title":null,"values":[0.455,0.46,0.465,0.47,0.475,0.48,0.485,0.49,0.495,0.5,0.505,0.51,0.515,0.52,0.525,0.53,0.535,0.54,0.545,0.55,0.555,0.56,0.565,0.57,0.575,0.58,0.585,0.59,0.595,0.6,0.605,0.61,0.615,0.62,0.625,0.63,0.635,0.64,0.645,0.65,0.655,0.66,0.665,0.67,0.675,0.68,0.685,0.69,0.695,0.7,0.705,0.71,0.715,0.72,0.725,0.73,0.735,0.74,0.745,0.75,0.755,0.76,0.765,0.77,0.775,0.78,0.785,0.79,0.795],
      "tickSize":{"condition":{"test":"round(datum.value*1000)%30===0","value":12},"value":6},
      "labelExpr":"round(datum.value*1000)%30===0 ? format(datum.value,'.2f') : ''","labelPadding":5}},
    "detail":{"field":"c"},
    "order":{"value":null}
   }
  },
  {"data":{"name":"ann"},
   "mark":{"type":"text","align":"right","baseline":"middle","fontSize":18,"font":"Liberation Sans","color":"#000"},
   "encoding":{"x":{"datum":10.2167,"type":"quantitative","axis":null},"y":{"field":"y","type":"quantitative","axis":null},"text":{"field":"lab"}}},
  {"data":{"name":"ann"},
   "mark":{"type":"rule","strokeWidth":1.8,"color":"#000"},
   "encoding":{"x":{"datum":10.2132,"type":"quantitative","axis":null},"x2":{"datum":10.2040},"y":{"field":"y","type":"quantitative","axis":null}}},
  {"data":{"name":"ann"},
   "mark":{"type":"point","shape":"triangle-right","filled":true,"color":"#000","size":70,"opacity":1},
   "encoding":{"x":{"datum":10.2024,"type":"quantitative","axis":null},"y":{"field":"y","type":"quantitative","axis":null}}}
 ]
},
{
 "width":77,"height":594,
 "title":{"text":"21TrpHε1"},
 "data":{"name":"p2"},
 "mark":{"type":"line","interpolate":"cardinal-closed","clip":true,"stroke":"#30308f","strokeWidth":1},
 "encoding":{
  "x":{"field":"x","type":"quantitative","scale":{"domain":[10.6106,10.6566],"reverse":true,"zero":false,"nice":false},
   "axis":{"orient":"bottom","title":null,"values":[10.615,10.62,10.625,10.63,10.635,10.64,10.645,10.65],
    "tickSize":{"condition":{"test":"round(datum.value*1000)%30===0","value":9},"value":5},
    "labelExpr":"round(datum.value*1000)%30===0 ? format(datum.value,'.2f') : ''","labelPadding":8}},
  "y":{"field":"y","type":"quantitative","scale":{"domain":[0.45,0.8],"reverse":true,"zero":false,"nice":false},
   "axis":{"orient":"right","title":null,"values":[0.455,0.46,0.465,0.47,0.475,0.48,0.485,0.49,0.495,0.5,0.505,0.51,0.515,0.52,0.525,0.53,0.535,0.54,0.545,0.55,0.555,0.56,0.565,0.57,0.575,0.58,0.585,0.59,0.595,0.6,0.605,0.61,0.615,0.62,0.625,0.63,0.635,0.64,0.645,0.65,0.655,0.66,0.665,0.67,0.675,0.68,0.685,0.69,0.695,0.7,0.705,0.71,0.715,0.72,0.725,0.73,0.735,0.74,0.745,0.75,0.755,0.76,0.765,0.77,0.775,0.78,0.785,0.79,0.795],
    "tickSize":{"condition":{"test":"round(datum.value*1000)%30===0","value":12},"value":6},
    "labelExpr":"round(datum.value*1000)%30===0 ? format(datum.value,'.2f') : ''","labelPadding":5}},
  "detail":{"field":"c"},
  "order":{"value":null}
 }
},
{
 "width":77,"height":594,
 "title":{"text":"25TrpHδ1"},
 "data":{"name":"p3"},
 "mark":{"type":"line","interpolate":"cardinal-closed","clip":true,"stroke":"#30308f","strokeWidth":1},
 "encoding":{
  "x":{"field":"x","type":"quantitative","scale":{"domain":[7.1452,7.1912],"reverse":true,"zero":false,"nice":false},
   "axis":{"orient":"bottom","title":null,"values":[7.15,7.155,7.16,7.165,7.17,7.175,7.18,7.185],
    "tickSize":{"condition":{"test":"abs(datum.value-7.17)<0.0001","value":9},"value":5},
    "labelExpr":"abs(datum.value-7.17)<0.0001 ? format(datum.value,'.2f') : ''","labelPadding":8}},
  "y":{"field":"y","type":"quantitative","scale":{"domain":[0.45,0.8],"reverse":true,"zero":false,"nice":false},
   "axis":{"orient":"right","title":null,"values":[0.455,0.46,0.465,0.47,0.475,0.48,0.485,0.49,0.495,0.5,0.505,0.51,0.515,0.52,0.525,0.53,0.535,0.54,0.545,0.55,0.555,0.56,0.565,0.57,0.575,0.58,0.585,0.59,0.595,0.6,0.605,0.61,0.615,0.62,0.625,0.63,0.635,0.64,0.645,0.65,0.655,0.66,0.665,0.67,0.675,0.68,0.685,0.69,0.695,0.7,0.705,0.71,0.715,0.72,0.725,0.73,0.735,0.74,0.745,0.75,0.755,0.76,0.765,0.77,0.775,0.78,0.785,0.79,0.795],
    "tickSize":{"condition":{"test":"round(datum.value*1000)%30===0","value":12},"value":6},
    "labelExpr":"round(datum.value*1000)%30===0 ? format(datum.value,'.2f') : ''","labelPadding":5}},
  "detail":{"field":"c"},
  "order":{"value":null}
 }
},
{
 "width":77,"height":594,
 "title":{"text":"21TrpHδ1"},
 "resolve":{"axis":{"x":"independent","y":"independent"}},
 "layer":[
  {
   "data":{"name":"p4"},
   "mark":{"type":"line","interpolate":"cardinal-closed","clip":true,"stroke":"#30308f","strokeWidth":1},
   "encoding":{
    "x":{"field":"x","type":"quantitative","scale":{"domain":[7.3796,7.4256],"reverse":true,"zero":false,"nice":false},
     "axis":{"orient":"bottom","title":null,"values":[7.38,7.385,7.39,7.395,7.4,7.405,7.41,7.415,7.42],
      "tickSize":{"condition":{"test":"abs(datum.value-7.41)<0.0001","value":9},"value":5},
      "labelExpr":"abs(datum.value-7.41)<0.0001 ? format(datum.value,'.2f') : ''","labelPadding":8}},
    "y":{"field":"y","type":"quantitative","scale":{"domain":[0.45,0.8],"reverse":true,"zero":false,"nice":false},
     "axis":{"orient":"right","title":null,"values":[0.455,0.46,0.465,0.47,0.475,0.48,0.485,0.49,0.495,0.5,0.505,0.51,0.515,0.52,0.525,0.53,0.535,0.54,0.545,0.55,0.555,0.56,0.565,0.57,0.575,0.58,0.585,0.59,0.595,0.6,0.605,0.61,0.615,0.62,0.625,0.63,0.635,0.64,0.645,0.65,0.655,0.66,0.665,0.67,0.675,0.68,0.685,0.69,0.695,0.7,0.705,0.71,0.715,0.72,0.725,0.73,0.735,0.74,0.745,0.75,0.755,0.76,0.765,0.77,0.775,0.78,0.785,0.79,0.795],
      "tickSize":{"condition":{"test":"round(datum.value*1000)%30===0","value":12},"value":6},
      "labelExpr":"round(datum.value*1000)%30===0 ? format(datum.value,'.2f') : ''","labelPadding":5}},
    "detail":{"field":"c"},
    "order":{"value":null}
   }
  },
  {
   "data":{"name":"p4o"},
   "mark":{"type":"line","interpolate":"cardinal","clip":true,"stroke":"#30308f","strokeWidth":1},
   "encoding":{
    "x":{"field":"x","type":"quantitative","axis":null},
    "y":{"field":"y","type":"quantitative","axis":null},
    "detail":{"field":"c"},
    "order":{"value":null}
   }
  }
 ]
}
]
}
